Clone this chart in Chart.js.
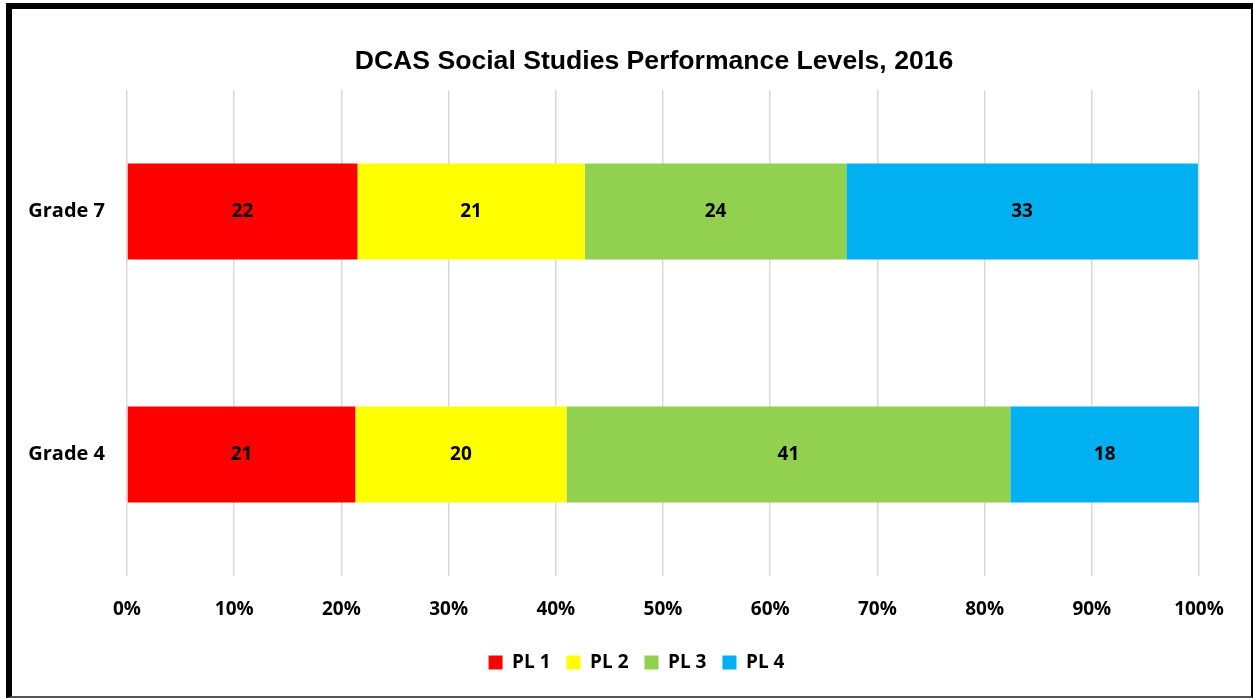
<!DOCTYPE html>
<html>
<head>
<meta charset="utf-8">
<script src="https://cdn.jsdelivr.net/npm/chart.js@4/dist/chart.umd.min.js"></script>
<style>
  html, body { margin: 0; padding: 0; background: #fff; }
  #frame {
    position: absolute; left: 6px; top: 3px;
    width: 1247px; height: 695px; box-sizing: border-box;
    border-top: 6px solid #000; border-left: 6px solid #000;
    border-right: 2px solid #000; border-bottom: 2px solid #555;
  }
  canvas { display: block; }
</style>
</head>
<body>
<div id="frame"><canvas id="chart" width="1239" height="687"></canvas></div>
<script>
const chartTitle = 'DCAS Social Studies Performance Levels, 2016';
const grades = ['Grade 7', 'Grade 4'];
const levelNames = ['PL 1', 'PL 2', 'PL 3', 'PL 4'];
const levelColors = ['#FF0000', '#FFFF00', '#92D050', '#00B0F0'];
// percent of students per level (labels show rounded)
const pl1 = [21.5, 21.3];
const pl2 = [21.2, 19.7];
const pl3 = [24.4, 41.4];
const pl4 = [32.8, 17.6];
const xTicks = [0, 10, 20, 30, 40, 50, 60, 70, 80, 90, 100];

const tickFont = { family: '"Open Sans"', size: 19, weight: 'bold' };

// title drawn a bit right of canvas centre, like the original
const titlePlugin = {
  id: 'topTitle',
  afterDraw(chart) {
    const ctx = chart.ctx;
    ctx.save();
    ctx.font = 'bold 26.6px "Liberation Sans", Arial, sans-serif';
    ctx.fillStyle = '#000';
    ctx.textAlign = 'center';
    ctx.textBaseline = 'middle';
    ctx.fillText(chartTitle, 642, 53);
    ctx.restore();
  }
};

// legend in the original sits a little right of the default spot
const legendShift = {
  id: 'legendShift',
  afterLayout(chart) {
    chart.legend.left += 31;
    chart.legend.right += 31;
  }
};

// value labels in the middle of each bar segment
const barLabels = {
  id: 'barLabels',
  afterDatasetsDraw(chart) {
    const ctx = chart.ctx;
    ctx.save();
    ctx.font = 'bold 19px "Open Sans"';
    ctx.fillStyle = '#000';
    ctx.textAlign = 'center';
    ctx.textBaseline = 'middle';
    chart.data.datasets.forEach((ds, i) => {
      chart.getDatasetMeta(i).data.forEach((bar, j) => {
        const p = bar.getProps(['x', 'y', 'base'], true);
        ctx.fillText(Math.round(ds.data[j]), (p.x + p.base) / 2, p.y);
      });
    });
    ctx.restore();
  }
};

const series = [pl1, pl2, pl3, pl4];

new Chart(document.getElementById('chart'), {
  type: 'bar',
  data: {
    labels: grades,
    datasets: series.map((vals, i) => ({
      label: levelNames[i],
      data: vals,
      backgroundColor: levelColors[i],
      borderWidth: 0,
      categoryPercentage: 1,
      barPercentage: 0.395
    }))
  },
  options: {
    indexAxis: 'y',
    responsive: false,
    animation: false,
    devicePixelRatio: 1,
    layout: { padding: { top: 81, right: 52, bottom: 14, left: 0 } },
    plugins: {
      title: { display: false },
      tooltip: { enabled: false },
      legend: {
        position: 'bottom',
        labels: {
          font: tickFont,
          color: '#000',
          boxWidth: 14,
          boxHeight: 14,
          padding: 16
        }
      }
    },
    scales: {
      x: {
        stacked: true,
        min: 0,
        max: 100,
        afterBuildTicks(scale) { scale.ticks = xTicks.map(v => ({ value: v })); },
        afterFit(scale) { scale.height = 61; },
        grid: { color: '#D9D9D9', lineWidth: 1.5, drawTicks: false },
        border: { display: false },
        ticks: {
          font: tickFont,
          color: '#000',
          padding: 22,
          maxRotation: 0,
          callback: v => v + '%'
        }
      },
      y: {
        stacked: true,
        afterFit(scale) { scale.width = 115; },
        grid: { display: false },
        border: { display: false },
        ticks: { font: { family: '"Open Sans"', size: 20, weight: 'bold' }, color: '#000', padding: 14 }
      }
    }
  },
  plugins: [titlePlugin, legendShift, barLabels]
});
</script>
</body>
</html>
